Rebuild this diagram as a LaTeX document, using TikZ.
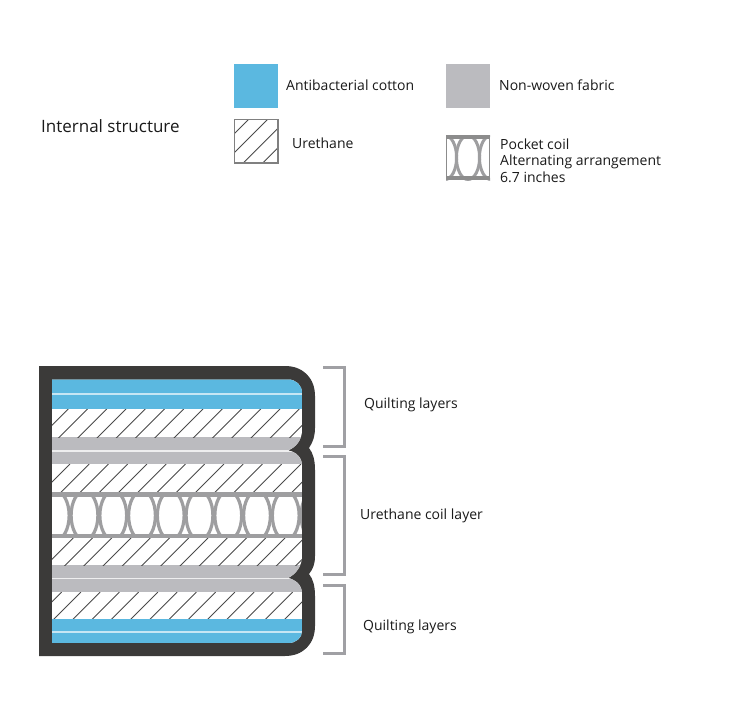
\documentclass[tikz,border=0pt]{standalone}
\usepackage{fontspec}
\setmainfont{Open Sans}
\definecolor{cblue}{HTML}{5BB8E0}
\definecolor{cgray}{HTML}{BBBBBF}
\definecolor{cdark}{HTML}{3B3A39}
\definecolor{cbrk}{HTML}{A0A0A4}
\definecolor{ccoil}{HTML}{9E9EA0}
\definecolor{chatch}{HTML}{4A4A4A}
\definecolor{ctext}{HTML}{1A1A1A}
\tikzset{
  lab/.style={anchor=base west,inner sep=0pt,text=ctext,font=\fontsize{14}{17}\selectfont},
  brk/.style={draw=cbrk,line width=3pt},
  hatchline/.style={draw=chatch,line width=0.8pt},
  coilline/.style={draw=ccoil,line width=3.2pt},
  bar/.style={fill=ccoil},
  whiteline/.style={draw=white!65!cblue,line width=1.1pt},
  whitegray/.style={draw=white!75!cgray,line width=1.1pt},
}
\begin{document}
\begin{tikzpicture}[x=1pt,y=-1pt]
\useasboundingbox (0,0) rectangle (728,728);
\fill[white] (0,0) rectangle (728,728);
% legend
\fill[cblue] (234,64) rectangle (278,108);
\fill[cgray] (446,64) rectangle (490,108);
\begin{scope}
\clip (234,119) rectangle (278,163);
\foreach \c in {249,268,287.3,306.7} \draw[draw=chatch,line width=.8pt] (\c,119) -- ++(-44,44);
\end{scope}
\draw[draw=gray,line width=1.3pt] (234.5,119.5) rectangle (278,163);
\begin{scope}
\clip (446,135) rectangle (490,180);
\draw[coilline,line width=3pt] (468,157.5) ellipse (11.6 and 22);
\draw[coilline,line width=3pt] (445,157.5) ellipse (11.6 and 22);
\draw[coilline,line width=3pt] (491,157.5) ellipse (11.6 and 22);
\end{scope}
\draw[draw=gray!90,line width=1.3pt] (446.6,136) rectangle (489.4,179);
\fill[gray!90] (446,135) rectangle (490,139);
\fill[gray!90] (446,176) rectangle (490,180);
\node[lab,font=\fontsize{17}{20}\selectfont] (t0) at (41,132) {Internal structure};
\node[lab] (t1) at (286,90) {Antibacterial cotton};
\node[lab] (t2) at (292,148) {Urethane};
\node[lab] (t3) at (499,90) {Non-woven fabric};
\node[lab] (t4) at (500,149) {Pocket coil};
\node[lab] (t5) at (500,165) {Alternating arrangement};
\node[lab] (t6) at (500,182) {6.7 inches};
\node[lab] (t7) at (364,408) {Quilting layers};
\node[lab] (t8) at (360,519) {Urethane coil layer};
\node[lab] (t9) at (363,630) {Quilting layers};
% outer
\fill[cdark] (39,366) -- (285,366) .. controls (303,366) and (315,378) .. (315,396)
  -- (315,428) .. controls (315,436) and (313,442) .. (309,448)
  .. controls (313,453) and (315,460) .. (315,470)
  -- (315,556) .. controls (315,564) and (313,569) .. (309,574)
  .. controls (313,579) and (315,586) .. (315,596)
  -- (315,626) .. controls (315,644) and (303,656) .. (285,656)
  -- (39,656) -- cycle;
\begin{scope}
\clip (52,379.5) -- (288,379.5) .. controls (296,379.5) and (302,385) .. (302,393)
  -- (302,430) .. controls (302,440) and (296,447) .. (288,450.5)
  .. controls (296,452) and (302,457) .. (302,466)
  -- (302,556) .. controls (302,566) and (296,574) .. (288,578)
  .. controls (296,580) and (302,585) .. (302,594)
  -- (302,631) .. controls (302,638) and (296,643) .. (288,643)
  -- (52,643) -- cycle;
\fill[white] (52,379) rectangle (302,643);
% blue
\fill[cblue] (52,379) rectangle (302,409);
\draw[whiteline] (52,394) -- (302,394);
\fill[cblue] (52,618.5) rectangle (302,643);
\draw[whiteline] (52,632) -- (302,632);
% gray
\fill[cgray] (52,437) rectangle (302,464);
\draw[whitegray] (52,451) -- (302,451);
\fill[cgray] (52,565) rectangle (302,592);
\draw[whitegray] (52,578.5) -- (302,578.5);
% hatch
\begin{scope}
\clip (52,409) rectangle (302,437);
\foreach \k in {0,...,13} \draw[hatchline] ({68.3+19.25*\k},409) -- ++(-30,30);
\end{scope}
\begin{scope}
\clip (52,464) rectangle (302,491.5);
\foreach \k in {0,...,13} \draw[hatchline] ({70+19.25*\k},464) -- ++(-30,30);
\end{scope}
\begin{scope}
\clip (52,538) rectangle (302,565);
\foreach \k in {0,...,13} \draw[hatchline] ({73.3+19.25*\k},538) -- ++(-30,30);
\end{scope}
\begin{scope}
\clip (52,592) rectangle (302,618.5);
\foreach \k in {0,...,14} \draw[hatchline] ({61.7+19.25*\k},592) -- ++(-30,30);
\end{scope}
% coils
\begin{scope}
\clip (52,494) rectangle (302,536);
\foreach \k in {-1,...,8} \draw[coilline] ({84.5+28.75*\k},515.5) ellipse (13.4 and 24.5);
\end{scope}
\fill[bar] (52,491.5) rectangle (302,497);
\fill[bar] (52,534) rectangle (302,538);
\end{scope}
% brackets
\draw[brk] (323,367.5) -- (344,367.5) -- (344,446) -- (323,446);
\draw[brk] (323,456) -- (344,456) -- (344,574) -- (323,574);
\draw[brk] (323,585) -- (344,585) -- (344,653) -- (323,653);
\end{tikzpicture}
\end{document}
